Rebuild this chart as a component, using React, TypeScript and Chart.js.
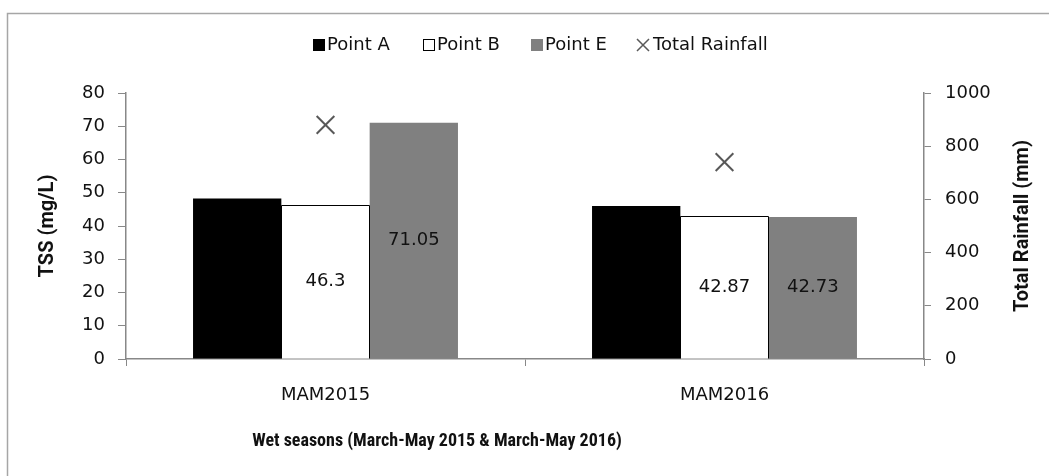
import React, { useEffect, useRef } from 'react';
import { Chart, registerables } from 'chart.js';

Chart.register(...registerables);

// ---- data ----
const categories = ['MAM2015', 'MAM2016'];
const pointA = [48.3, 46.0];
const pointB = [46.3, 42.87];
const pointE = [71.05, 42.73];
const totalRainfall = [880, 740];
const seriesNames = ['Point A', 'Point B', 'Point E', 'Total Rainfall'];
const tssAxis = { min: 0, max: 80, step: 10 };
const rainAxis = { min: 0, max: 1000, step: 200 };
const xTitle = 'Wet seasons (March-May 2015 & March-May 2016)';
const yTitle = 'TSS (mg/L)';
const y1Title = 'Total Rainfall (mm)';

const FONT = '"DejaVu Sans", "Open Sans", sans-serif';
const FS = 18;
const BOLD_FONT = 'Roboto, "Open Sans", sans-serif';
const XT_FONT = '"Roboto Condensed", Roboto, sans-serif';
const AXIS = '#888888';
const TEXT = '#111111';
const GREY = '#808080';
const CROSS = '#595959';

const W = 1049;
const H = 476;

const decorPlugin = {
  id: 'decor',
  beforeDraw(chart: any) {
    const ctx = chart.ctx;
    ctx.save();
    ctx.strokeStyle = '#a6a6a6';
    ctx.lineWidth = 1.5;
    ctx.beginPath();
    ctx.moveTo(7.5, H);
    ctx.lineTo(7.5, 13.5);
    ctx.lineTo(W, 13.5);
    ctx.stroke();
    ctx.restore();
  },
  afterDatasetsDraw(chart: any) {
    const ctx = chart.ctx;
    ctx.save();
    // outline of the white bars, drawn over neighbours
    const metaB = chart.getDatasetMeta(1);
    ctx.strokeStyle = '#000';
    ctx.lineWidth = 1;
    metaB.data.forEach((bar: any) => {
      const l = Math.round(bar.x - bar.width / 2) + 0.5;
      const r = Math.round(bar.x + bar.width / 2) - 0.5;
      const t = Math.round(bar.y) + 0.5;
      const b = bar.base;
      ctx.beginPath();
      ctx.moveTo(l, b);
      ctx.lineTo(l, t);
      ctx.lineTo(r, t);
      ctx.lineTo(r, b);
      ctx.stroke();
    });

    ctx.font = `${FS}px ${FONT}`;
    ctx.fillStyle = TEXT;
    ctx.textAlign = 'center';
    ctx.textBaseline = 'middle';
    [1, 2].forEach((di) => {
      const meta = chart.getDatasetMeta(di);
      const data = chart.data.datasets[di].data as number[];
      meta.data.forEach((bar: any, i: number) => {
        ctx.fillText(String(data[i]), bar.x, (bar.y + bar.base) / 2);
      });
    });
    ctx.restore();
  },
  afterDraw(chart: any) {
    const ctx = chart.ctx;
    const area = chart.chartArea;
    ctx.save();
    ctx.fillStyle = TEXT;
    ctx.textAlign = 'center';
    ctx.textBaseline = 'middle';
    // x axis title
    ctx.font = `bold 18px ${XT_FONT}`;
    ctx.fillText(xTitle, 437, 441);
    // right axis title, reading bottom to top
    ctx.font = `bold 20px ${BOLD_FONT}`;
    ctx.translate(1023, (area.top + area.bottom) / 2);
    ctx.rotate(-Math.PI / 2);
    ctx.fillText(y1Title, 0, 0);
    ctx.restore();

    // legend
    ctx.save();
    const ly = 45;
    const textX = [327, 437, 545, 653];
    ctx.font = `${FS}px ${FONT}`;
    ctx.textBaseline = 'middle';
    ctx.textAlign = 'left';
    seriesNames.forEach((name, i) => {
      const tx = textX[i];
      const bx = tx - 14;
      if (i < 3) {
        const s = 12;
        ctx.fillStyle = i === 0 ? '#000' : i === 1 ? '#fff' : GREY;
        ctx.fillRect(bx, ly - s / 2, s, s);
        if (i === 1) {
          ctx.strokeStyle = '#000';
          ctx.lineWidth = 1;
          ctx.strokeRect(bx + 0.5, ly - s / 2 + 0.5, s - 1, s - 1);
        }
      } else {
        const cx = tx - 10;
        const r = 6;
        ctx.strokeStyle = CROSS;
        ctx.lineWidth = 1.5;
        ctx.beginPath();
        ctx.moveTo(cx - r, ly - r);
        ctx.lineTo(cx + r, ly + r);
        ctx.moveTo(cx + r, ly - r);
        ctx.lineTo(cx - r, ly + r);
        ctx.stroke();
      }
      ctx.fillStyle = TEXT;
      ctx.fillText(name, tx, ly);
    });
    ctx.restore();
  },
};

export default function App() {
  const ref = useRef<HTMLCanvasElement | null>(null);

  useEffect(() => {
    if (!ref.current) return;
    const chart = new Chart(ref.current, {
      type: 'bar',
      data: {
        labels: categories,
        datasets: [
          {
            type: 'bar',
            label: seriesNames[0],
            data: pointA,
            backgroundColor: '#000000',
            borderColor: '#000000',
            borderWidth: 0,
            yAxisID: 'y',
            order: 2,
          },
          {
            type: 'bar',
            label: seriesNames[1],
            data: pointB,
            backgroundColor: '#ffffff',
            borderColor: '#000000',
            borderWidth: 0,
            yAxisID: 'y',
            order: 2,
          },
          {
            type: 'bar',
            label: seriesNames[2],
            data: pointE,
            backgroundColor: GREY,
            borderColor: GREY,
            borderWidth: 0,
            yAxisID: 'y',
            order: 2,
          },
          {
            type: 'line',
            label: seriesNames[3],
            data: totalRainfall,
            showLine: false,
            pointStyle: 'crossRot',
            pointRadius: 12.5,
            pointBorderWidth: 2,
            borderColor: CROSS,
            backgroundColor: CROSS,
            yAxisID: 'y1',
            order: 1,
          },
        ],
      } as any,
      options: {
        responsive: false,
        animation: false,
        devicePixelRatio: 1,
        layout: { padding: { top: 93, left: 0, right: 0, bottom: 0 } },
        datasets: {
          bar: { categoryPercentage: 0.664, barPercentage: 1 },
        } as any,
        plugins: {
          legend: { display: false },
          tooltip: { enabled: false },
        },
        scales: {
          x: {
            type: 'category',
            offset: true,
            grid: {
              offset: true,
              drawOnChartArea: false,
              drawTicks: true,
              tickLength: 7,
              color: AXIS,
            },
            border: { color: AXIS, width: 1.5 },
            ticks: {
              color: TEXT,
              font: { family: FONT, size: FS },
              padding: 19,
            },
            title: { display: false, text: xTitle },
            afterFit(scale: any) {
              scale.height = 117;
            },
          },
          y: {
            type: 'linear',
            position: 'left',
            min: tssAxis.min,
            max: tssAxis.max,
            grid: {
              drawOnChartArea: false,
              drawTicks: true,
              tickLength: 8,
              color: AXIS,
            },
            border: { color: AXIS, width: 1.5 },
            ticks: {
              stepSize: tssAxis.step,
              color: TEXT,
              font: { family: FONT, size: FS },
              padding: 13,
            },
            title: {
              display: true,
              text: yTitle,
              color: TEXT,
              font: { family: BOLD_FONT, size: 20, weight: 'bold', lineHeight: 1.2 },
              padding: { top: 36, bottom: 0 },
            },
            afterFit(scale: any) {
              scale.width = 126;
            },
          },
          y1: {
            type: 'linear',
            position: 'right',
            min: rainAxis.min,
            max: rainAxis.max,
            grid: {
              drawOnChartArea: false,
              drawTicks: true,
              tickLength: 7,
              color: AXIS,
            },
            border: { color: AXIS, width: 1.5 },
            ticks: {
              stepSize: rainAxis.step,
              color: TEXT,
              font: { family: FONT, size: FS },
              padding: 14,
              callback: (v: any) => String(v),
            },
            afterFit(scale: any) {
              scale.width = 125;
            },
          },
        },
      } as any,
      plugins: [decorPlugin],
    });
    return () => chart.destroy();
  }, []);

  return (
    <div style={{ position: 'fixed', left: 0, top: 0, width: W, height: H, overflow: 'hidden', background: '#fff' }}>
      <canvas ref={ref} width={W} height={H} style={{ display: 'block', width: W, height: H }} />
    </div>
  );
}
